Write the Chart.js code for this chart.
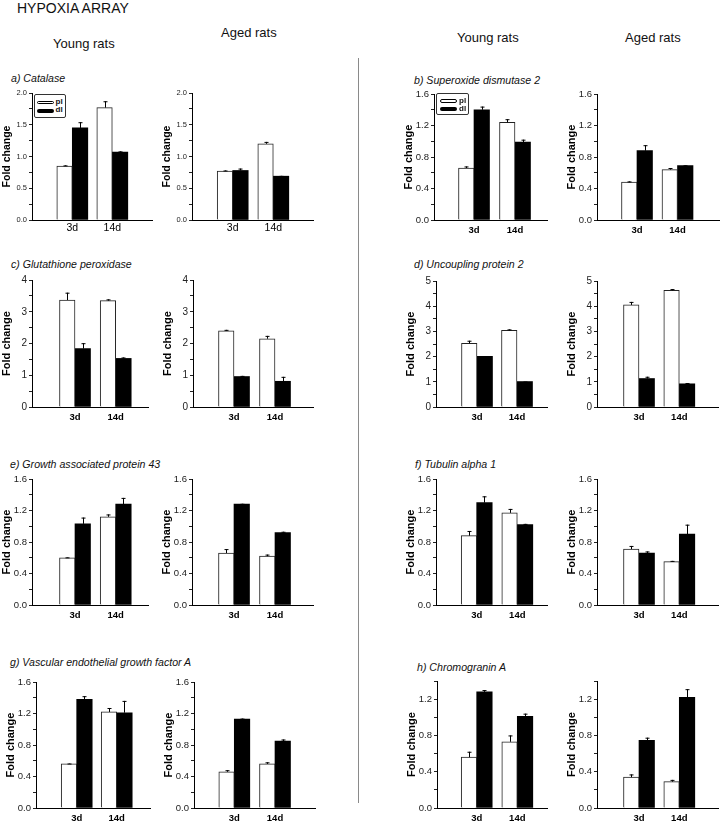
<!DOCTYPE html>
<html>
<head>
<meta charset="utf-8">
<script src="https://cdn.jsdelivr.net/npm/chart.js@4"></script>
<style>
  html, body { margin: 0; padding: 0; background: #fff; }
  body { width: 720px; height: 823px; position: relative; overflow: hidden;
         font-family: "Liberation Sans", Arial, sans-serif; color: #111; }
  .t { position: absolute; white-space: nowrap; line-height: 1; transform: translateY(-50%); }
  .hdr { font-size: 13px; }
  .ptitle { font-style: italic; font-size: 10.6px; }
  canvas { position: absolute; }
  .legend { position: absolute; border: 1px solid #333; border-radius: 2px; background: #fff; box-sizing: border-box; }
  .sw { position: absolute; border-radius: 2px; box-sizing: border-box; }
  .lt { position: absolute; font-weight: bold; font-size: 8px; line-height: 1; transform: translateY(-50%); }
  .divider { position: absolute; left: 357.5px; top: 58px; width: 1.5px; height: 745px; background: #8a8a8a; }
</style>
</head>
<body>
<div class="t" style="left:17px;top:8px;font-size:14px;">HYPOXIA ARRAY</div>
<div class="t hdr" style="left:53px;top:43px;">Young rats</div>
<div class="t hdr" style="left:221px;top:32px;">Aged rats</div>
<div class="t hdr" style="left:457px;top:37px;">Young rats</div>
<div class="t hdr" style="left:625px;top:37px;">Aged rats</div>
<div class="divider"></div>

<div class="t ptitle" style="left:11px;top:78px;">a) Catalase</div>
<div class="t ptitle" style="left:414px;top:80px;">b) Superoxide dismutase 2</div>
<div class="t ptitle" style="left:11px;top:264px;">c) Glutathione peroxidase</div>
<div class="t ptitle" style="left:414px;top:264px;">d) Uncoupling protein 2</div>
<div class="t ptitle" style="left:10px;top:464px;">e) Growth associated protein 43</div>
<div class="t ptitle" style="left:415px;top:464px;">f) Tubulin alpha 1</div>
<div class="t ptitle" style="left:10px;top:662px;">g) Vascular endothelial growth factor A</div>
<div class="t ptitle" style="left:417px;top:667px;">h) Chromogranin A</div>

<script>
// ---------------- DATA ----------------
const timepoints = ['3d', '14d'];
const groupNames = ['pl', 'dl'];

// a) Catalase
const catalaseYoungPl = [0.85, 1.77], catalaseYoungPlErr = [0.01, 0.10];
const catalaseYoungDl = [1.45, 1.07], catalaseYoungDlErr = [0.09, 0.01];
const catalaseAgedPl  = [0.77, 1.20], catalaseAgedPlErr  = [0.01, 0.03];
const catalaseAgedDl  = [0.78, 0.69], catalaseAgedDlErr  = [0.03, 0.005];
// b) Superoxide dismutase 2
const sodYoungPl = [0.66, 1.24], sodYoungPlErr = [0.02, 0.04];
const sodYoungDl = [1.40, 0.99], sodYoungDlErr = [0.04, 0.03];
const sodAgedPl  = [0.48, 0.64], sodAgedPlErr  = [0.01, 0.02];
const sodAgedDl  = [0.88, 0.69], sodAgedDlErr  = [0.07, 0.005];
// c) Glutathione peroxidase
const gpxYoungPl = [3.37, 3.35], gpxYoungPlErr = [0.23, 0.04];
const gpxYoungDl = [1.84, 1.53], gpxYoungDlErr = [0.17, 0.03];
const gpxAgedPl  = [2.40, 2.15], gpxAgedPlErr  = [0.03, 0.09];
const gpxAgedDl  = [0.96, 0.81], gpxAgedDlErr  = [0.02, 0.14];
// d) Uncoupling protein 2
const ucpYoungPl = [2.53, 3.04], ucpYoungPlErr = [0.10, 0.04];
const ucpYoungDl = [2.01, 1.01], ucpYoungDlErr = [0.0, 0.0];
const ucpAgedPl  = [4.05, 4.63], ucpAgedPlErr  = [0.12, 0.05];
const ucpAgedDl  = [1.13, 0.92], ucpAgedDlErr  = [0.07, 0.03];
// e) Growth associated protein 43
const gapYoungPl = [0.60, 1.12], gapYoungPlErr = [0.005, 0.03];
const gapYoungDl = [1.03, 1.28], gapYoungDlErr = [0.08, 0.08];
const gapAgedPl  = [0.66, 0.62], gapAgedPlErr  = [0.05, 0.02];
const gapAgedDl  = [1.28, 0.92], gapAgedDlErr  = [0.005, 0.01];
// f) Tubulin alpha 1
const tubYoungPl = [0.88, 1.17], tubYoungPlErr = [0.06, 0.05];
const tubYoungDl = [1.30, 1.02], tubYoungDlErr = [0.08, 0.01];
const tubAgedPl  = [0.71, 0.55], tubAgedPlErr  = [0.04, 0.01];
const tubAgedDl  = [0.66, 0.90], tubAgedDlErr  = [0.02, 0.12];
// g) Vascular endothelial growth factor A
const vegfYoungPl = [0.56, 1.22], vegfYoungPlErr = [0.005, 0.05];
const vegfYoungDl = [1.38, 1.21], vegfYoungDlErr = [0.04, 0.15];
const vegfAgedPl  = [0.46, 0.56], vegfAgedPlErr  = [0.02, 0.02];
const vegfAgedDl  = [1.13, 0.85], vegfAgedDlErr  = [0.005, 0.02];
// h) Chromogranin A
const chgYoungPl = [0.56, 0.73], chgYoungPlErr = [0.06, 0.07];
const chgYoungDl = [1.28, 1.01], chgYoungDlErr = [0.02, 0.03];
const chgAgedPl  = [0.34, 0.29], chgAgedPlErr  = [0.03, 0.02];
const chgAgedDl  = [0.745, 1.22], chgAgedDlErr = [0.03, 0.09];

// y-axis settings per gene: [max, labelled step, decimals]
const catalaseAxis = [2.0, 0.5, 1];
const sodAxis = [1.6, 0.4, 1];
const gpxAxis = [4, 1, 0];
const ucpAxis = [5, 1, 0];
const gapAxis = [1.6, 0.4, 1];
const tubAxis = [1.6, 0.4, 1];
const vegfAxis = [1.6, 0.4, 1];
const chgAxis = [1.4, 0.4, 1];

// ---------------- LAYOUT (page pixels) ----------------
// [axisX, axisEnd, plotTop, plotBottom, center3d, center14d]
const boxes = {
  aY: [32.3, 152.7, 93.3, 219.5, 72.3, 112.3],
  aA: [192.3, 313.3, 93.3, 219.5, 232.7, 273.3],
  bY: [434, 547, 94, 220, 474, 515],
  bA: [596.7, 718.3, 94, 220, 637, 677.5],
  cY: [32.3, 148, 280, 407, 75, 115.7],
  cA: [192.7, 313, 280, 407, 234, 275],
  dY: [436, 547, 280.7, 407.3, 477, 517],
  dA: [597, 718, 280.7, 407.3, 639, 679.3],
  eY: [32.3, 148, 479, 605, 75, 115.7],
  eA: [192.3, 313, 479, 605, 234, 275],
  fY: [436, 547, 479, 605, 476.7, 517.3],
  fA: [597, 718, 479, 605, 639, 679.3],
  gY: [35.7, 150, 682, 808.3, 76.7, 116.7],
  gA: [194, 315, 682, 808.3, 234.3, 275],
  hY: [436.7, 547, 680.7, 808.3, 476.7, 517.3],
  hA: [597, 718, 680.7, 808.3, 639, 679.3]
};

const panels = [
  { b: 'aY', pl: catalaseYoungPl, plE: catalaseYoungPlErr, dl: catalaseYoungDl, dlE: catalaseYoungDlErr, ax: catalaseAxis, small: true },
  { b: 'aA', pl: catalaseAgedPl, plE: catalaseAgedPlErr, dl: catalaseAgedDl, dlE: catalaseAgedDlErr, ax: catalaseAxis, small: true },
  { b: 'bY', pl: sodYoungPl, plE: sodYoungPlErr, dl: sodYoungDl, dlE: sodYoungDlErr, ax: sodAxis },
  { b: 'bA', pl: sodAgedPl, plE: sodAgedPlErr, dl: sodAgedDl, dlE: sodAgedDlErr, ax: sodAxis },
  { b: 'cY', pl: gpxYoungPl, plE: gpxYoungPlErr, dl: gpxYoungDl, dlE: gpxYoungDlErr, ax: gpxAxis },
  { b: 'cA', pl: gpxAgedPl, plE: gpxAgedPlErr, dl: gpxAgedDl, dlE: gpxAgedDlErr, ax: gpxAxis },
  { b: 'dY', pl: ucpYoungPl, plE: ucpYoungPlErr, dl: ucpYoungDl, dlE: ucpYoungDlErr, ax: ucpAxis },
  { b: 'dA', pl: ucpAgedPl, plE: ucpAgedPlErr, dl: ucpAgedDl, dlE: ucpAgedDlErr, ax: ucpAxis },
  { b: 'eY', pl: gapYoungPl, plE: gapYoungPlErr, dl: gapYoungDl, dlE: gapYoungDlErr, ax: gapAxis },
  { b: 'eA', pl: gapAgedPl, plE: gapAgedPlErr, dl: gapAgedDl, dlE: gapAgedDlErr, ax: gapAxis },
  { b: 'fY', pl: tubYoungPl, plE: tubYoungPlErr, dl: tubYoungDl, dlE: tubYoungDlErr, ax: tubAxis },
  { b: 'fA', pl: tubAgedPl, plE: tubAgedPlErr, dl: tubAgedDl, dlE: tubAgedDlErr, ax: tubAxis },
  { b: 'gY', pl: vegfYoungPl, plE: vegfYoungPlErr, dl: vegfYoungDl, dlE: vegfYoungDlErr, ax: vegfAxis },
  { b: 'gA', pl: vegfAgedPl, plE: vegfAgedPlErr, dl: vegfAgedDl, dlE: vegfAgedDlErr, ax: vegfAxis },
  { b: 'hY', pl: chgYoungPl, plE: chgYoungPlErr, dl: chgYoungDl, dlE: chgYoungDlErr, ax: chgAxis },
  { b: 'hA', pl: chgAgedPl, plE: chgAgedPlErr, dl: chgAgedDl, dlE: chgAgedDlErr, ax: chgAxis }
];

Chart.defaults.font.family = '"Liberation Sans", Arial, sans-serif';
Chart.defaults.color = '#111';

const errorBars = {
  id: 'errorBars',
  afterDatasetsDraw(chart) {
    const ctx = chart.ctx, ys = chart.scales.y;
    chart.data.datasets.forEach((ds, di) => {
      const meta = chart.getDatasetMeta(di);
      meta.data.forEach((bar, i) => {
        const e = ds.errors[i];
        const top = ys.getPixelForValue(ds.data[i].y + e);
        const x = Math.round(bar.x) + 0.5;
        ctx.save();
        ctx.strokeStyle = '#000';
        ctx.lineWidth = 1;
        ctx.beginPath();
        ctx.moveTo(x, bar.y);
        ctx.lineTo(x, top);
        ctx.moveTo(x - 2, top + 0.5);
        ctx.lineTo(x + 2, top + 0.5);
        ctx.stroke();
        ctx.restore();
      });
    });
  }
};

const YW = 36, PADT = 8, XH = 24, PADR = 4;

panels.forEach(p => {
  const [axisX, axisEnd, yTop, yBot, c3, c14] = boxes[p.b];
  const ax0 = Math.round(axisX);
  const plotW = Math.round(axisEnd - axisX);
  const plotH = Math.round(yBot) - Math.round(yTop);
  const cv = document.createElement('canvas');
  const W = YW + plotW + PADR, H = plotH + PADT + XH;
  cv.width = W; cv.height = H;
  cv.style.width = W + 'px'; cv.style.height = H + 'px';
  cv.style.left = (ax0 - YW) + 'px';
  cv.style.top = (Math.round(yTop) - PADT) + 'px';
  document.body.appendChild(cv);

  const unit = c14 - c3;
  const xmin = 1 - (c3 - ax0) / unit;
  const xmax = xmin + plotW / unit;
  const [ymax, major, dec] = p.ax;
  const titleSize = p.small ? 10.5 : 11;
  const titleLH = titleSize * 1.2;
  const titlePadTop = Math.max(0, (YW - 25) - titleLH / 2);

  new Chart(cv, {
    type: 'bar',
    data: {
      datasets: [
        { label: groupNames[0], data: p.pl.map((v, i) => ({ x: i + 1, y: v })), errors: p.plE,
          backgroundColor: '#fff', borderColor: '#222', borderWidth: 1, borderSkipped: 'bottom', barThickness: 15.5 },
        { label: groupNames[1], data: p.dl.map((v, i) => ({ x: i + 1, y: v })), errors: p.dlE,
          backgroundColor: '#000', borderColor: '#000', borderWidth: 0, barThickness: 15.5 }
      ]
    },
    options: {
      responsive: false,
      animation: false,
      devicePixelRatio: 1,
      layout: { padding: { top: PADT, right: PADR, left: 0, bottom: 0 } },
      plugins: { legend: { display: false }, tooltip: { enabled: false }, title: { display: false } },
      scales: {
        x: {
          type: 'linear', min: xmin, max: xmax, offset: false,
          grid: { display: false, drawTicks: false, offset: false },
          border: { display: true, color: '#000', width: 1 },
          afterBuildTicks: s => { s.ticks = timepoints.map((t, i) => ({ value: i + 1 })); },
          afterFit: s => { s.height = XH; },
          ticks: {
            autoSkip: false, maxRotation: 0,
            padding: p.small ? 2 : 5,
            color: '#000',
            font: p.small ? { size: 10.5, weight: 'normal' } : { size: 9.5, weight: 'bold' },
            callback: v => timepoints[Math.round(v) - 1] || ''
          }
        },
        y: {
          type: 'linear', min: 0, max: ymax,
          grid: { drawOnChartArea: false, drawTicks: true, tickLength: 3, tickColor: '#222' },
          border: { display: true, color: '#000', width: 1 },
          afterFit: s => { s.width = YW; },
          title: { display: true, text: 'Fold change', color: '#000',
                   font: { size: titleSize, weight: 'bold' }, padding: { top: titlePadTop, bottom: 0 } },
          ticks: {
            stepSize: major / 2, autoSkip: false, includeBounds: false, padding: 2,
            color: '#222',
            font: { size: p.small ? 7.5 : (dec === 0 ? 10 : 9.5) },
            callback: v => {
              const r = v / major;
              return Math.abs(r - Math.round(r)) < 1e-6 ? Number(v).toFixed(dec) : '';
            }
          }
        }
      }
    },
    plugins: [errorBars]
  });
});
</script>

<!-- legends -->
<div class="legend" style="left:33.5px;top:93.5px;width:32px;height:24px;">
  <div class="sw" style="left:2px;top:6px;width:17px;height:3.5px;border:1px solid #000;background:#fff;"></div>
  <div class="sw" style="left:2px;top:14px;width:17px;height:4px;background:#000;"></div>
  <div class="lt" style="left:21px;top:7.5px;">pl</div>
  <div class="lt" style="left:21px;top:15.5px;">dl</div>
</div>
<div class="legend" style="left:436px;top:92.5px;width:33px;height:22.5px;">
  <div class="sw" style="left:3px;top:5.5px;width:17px;height:3.5px;border:1px solid #000;background:#fff;"></div>
  <div class="sw" style="left:3px;top:13px;width:17px;height:4px;background:#000;"></div>
  <div class="lt" style="left:22px;top:7px;">pl</div>
  <div class="lt" style="left:22px;top:15px;">dl</div>
</div>
</body>
</html>
